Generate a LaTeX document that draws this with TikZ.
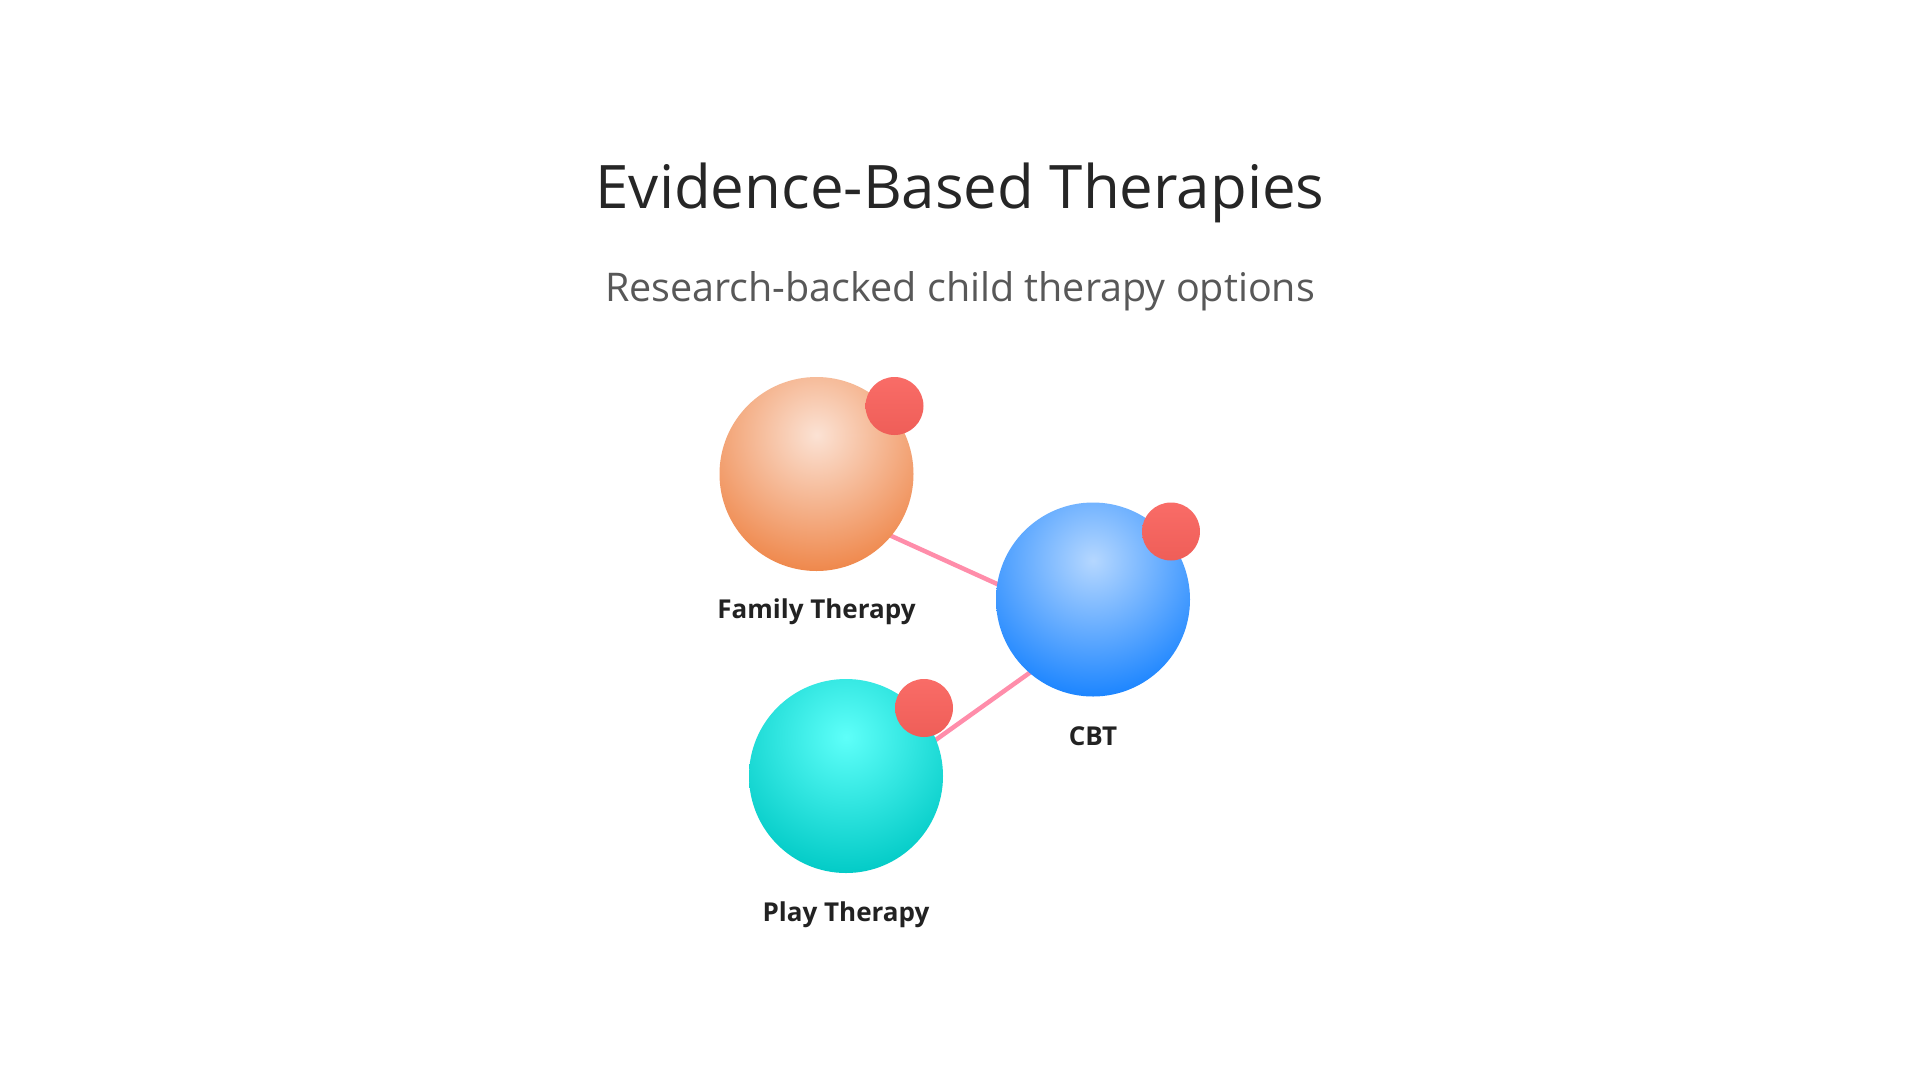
\documentclass[tikz,border=0pt]{standalone}
\usepackage{fontspec}
\setmainfont{Open Sans}
\usetikzlibrary{backgrounds}
\definecolor{famhi}{HTML}{FBE2D4}
\definecolor{famlo}{HTML}{EF884C}
\definecolor{cbthi}{HTML}{B5D7FF}
\definecolor{cbtlo}{HTML}{1C85FF}
\definecolor{playhi}{HTML}{5EFFF9}
\definecolor{playlo}{HTML}{03CBC7}
\definecolor{dothi}{HTML}{F96C67}
\definecolor{dotlo}{HTML}{EF5E58}
\definecolor{linkpink}{HTML}{FF8DAA}
\definecolor{titlegray}{HTML}{262626}
\definecolor{subgray}{HTML}{585858}
\definecolor{labelgray}{HTML}{222222}
\pgfdeclareradialshading{famsh}{\pgfpointorigin}{color(0bp)=(famhi); color(25bp)=(famlo); color(50bp)=(famlo)}
\pgfdeclareradialshading{cbtsh}{\pgfpointorigin}{color(0bp)=(cbthi); color(25bp)=(cbtlo); color(50bp)=(cbtlo)}
\pgfdeclareradialshading{playsh}{\pgfpointorigin}{color(0bp)=(playhi); color(25bp)=(playlo); color(50bp)=(playlo)}
\tikzset{
  ball/.style={circle, minimum size=194pt, inner sep=0pt, outer sep=0pt,
    path picture={\shade[shading=#1] ([yshift=39pt]path picture bounding box.center) circle (136pt);}},
  reddot/.style={circle, minimum size=58pt, inner sep=0pt, top color=dothi, bottom color=dotlo},
  link/.style={draw=linkpink, line width=4.5pt},
  lbl/.style={anchor=base, font=\bfseries\fontsize{26}{30}\selectfont, text=labelgray},
  titletext/.style={anchor=base, font=\fontsize{60}{70}\selectfont, text=titlegray},
  subtext/.style={anchor=base, font=\fontsize{39.5}{46}\selectfont, text=subgray}
}
\begin{document}
\begin{tikzpicture}[x=1pt, y=-1pt]
\useasboundingbox (0,0) rectangle (1920,1080);
\node[titletext] (title) at (960,208) {Evidence-Based Therapies};
\node[subtext] (sub) at (960,301) {Research-backed child therapy options};
% balls
\node[ball=famsh] (fam) at (816.5,474) {};
\node[ball=cbtsh] (cbt) at (1093,599.5) {};
\node[ball=playsh] (play) at (846,776) {};
% white page and connectors (behind the balls)
\begin{scope}[on background layer]
\fill[white] (0,0) rectangle (1920,1080);
\draw[link] ([yshift=-28pt]fam.center) -- ([yshift=-28pt]cbt.center);
\draw[link] ([yshift=-28pt]play.center) -- ([yshift=-28pt]cbt.center);
\end{scope}
% red dots
\node[reddot] (famdot) at ([shift={(78,-68)}]fam.center) {};
\node[reddot] (cbtdot) at ([shift={(78,-68)}]cbt.center) {};
\node[reddot] (playdot) at ([shift={(78,-68)}]play.center) {};
% labels
\node[lbl] (famlbl) at (816.5,618) {Family Therapy};
\node[lbl] (cbtlbl) at (1093,745) {CBT};
\node[lbl] (playlbl) at (846,921.5) {Play Therapy};
\end{tikzpicture}
\end{document}
